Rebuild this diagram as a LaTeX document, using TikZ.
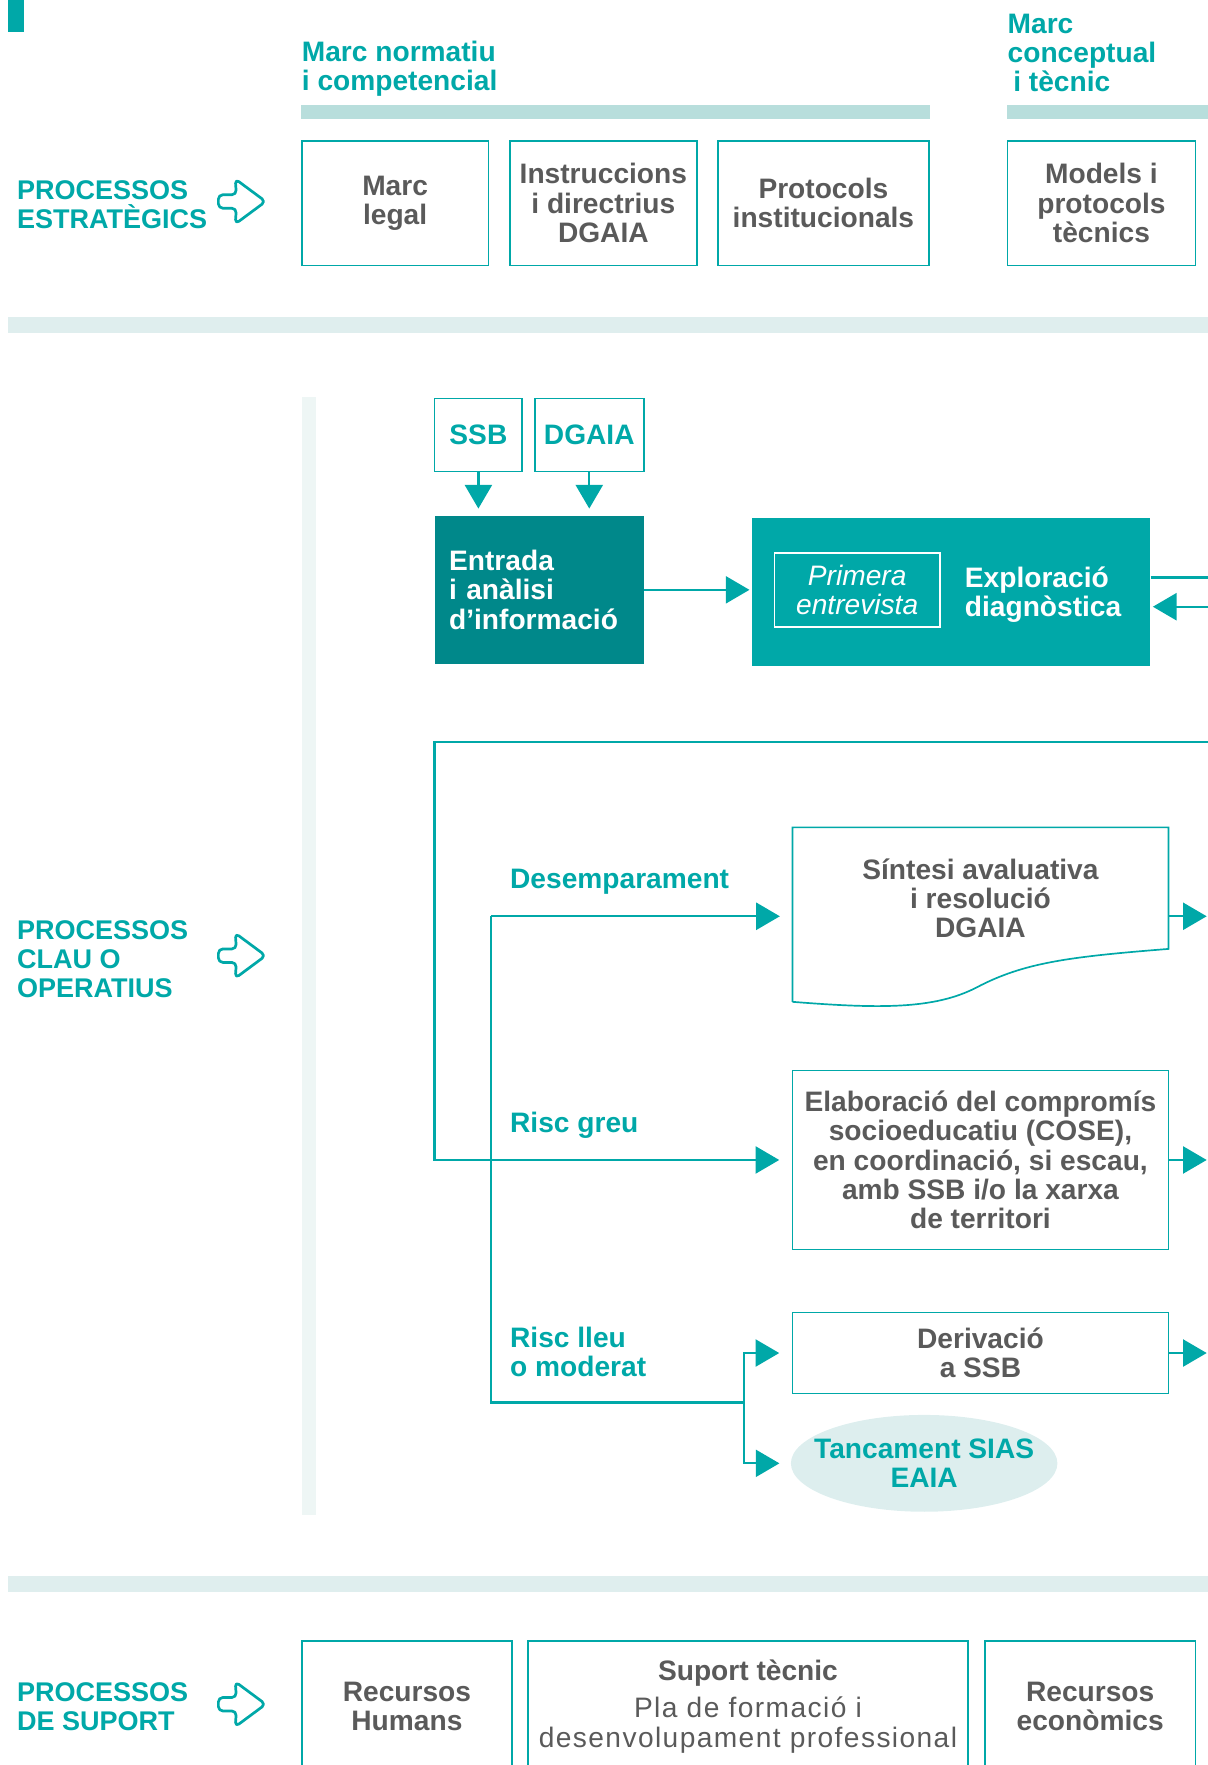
\documentclass[tikz,border=0pt]{standalone}
\usepackage{fontspec}
\setmainfont{Liberation Sans}
\usetikzlibrary{arrows.meta,shapes.geometric,calc}

\definecolor{procteal}{HTML}{00A8A8}
\definecolor{darkteal}{HTML}{00888A}
\definecolor{barteal}{HTML}{B8DEDC}
\definecolor{sepgray}{HTML}{DFEEEE}
\definecolor{lanegray}{HTML}{EEF6F5}
\definecolor{closefill}{HTML}{DDEEEE}
\definecolor{txtgray}{HTML}{5A5A5A}

\tikzset{
  bigfont/.style={font=\bfseries\fontsize{25}{26}\selectfont},
  box/.style={draw=procteal, line width=1.5pt, text=txtgray, align=center, inner sep=0pt, bigfont},
  lbl/.style={text=procteal, align=left, anchor=west, inner sep=0pt, bigfont},
  sidelbl/.style={lbl, font=\bfseries\fontsize{24}{26}\selectfont},
  lin/.style={draw=procteal, line width=2pt},
  arr/.style={lin, -{Triangle[length=21pt,width=24pt]}},
  procarrow/.pic={
    \draw[procteal, line width=2.4pt, rounded corners=4pt, line join=round]
      (-21,-6) -- (-5,-6) -- (-6,-20) -- (21,0) -- (-6,20)
      -- (-5,6) -- (-21,6) -- cycle;
  }
}

\begin{document}
\begin{tikzpicture}[x=1pt,y=-1pt]
  \useasboundingbox (0,0) rectangle (1073,1568);
  \clip (0,0) rectangle (1073,1568);

  \fill[procteal] (7,0) rectangle (21,28);
  \fill[barteal] (267,93) rectangle (826,106);
  \fill[barteal] (895,93) rectangle (1073,106);
  \fill[sepgray] (7,282) rectangle (1073,296);
  \fill[sepgray] (7,1400) rectangle (1073,1414);
  \fill[lanegray] (268,353) rectangle (281,1346);

  % estrategics
  \node[lbl] (normtitle) at (268,61) {Marc normatiu\\i competencial};
  \node[lbl] (conctitle) at (895,47) {Marc\\conceptual\\\hspace{5pt}i tècnic};
  \node[sidelbl] (estrat) at (15,182) {PROCESSOS\\ESTRATÈGICS};
  \pic at (215,179) {procarrow};
  \node[box, minimum width=166pt, minimum height=111pt] (legal) at (351,180.5) {Marc\\legal};
  \node[box, minimum width=166pt, minimum height=111pt] (instr) at (536,180.5) {Instruccions\\i directrius\\DGAIA};
  \node[box, minimum width=187pt, minimum height=111pt] (protoc) at (731.5,180.5) {Protocols\\institucionals};
  \node[box, minimum width=167pt, minimum height=111pt] (models) at (978.5,180.5) {Models i\\protocols\\tècnics};

  % clau o operatius
  \node[sidelbl] (clau) at (15,852) {PROCESSOS\\CLAU O\\OPERATIUS};
  \pic at (215,849) {procarrow};
  \node[box, text=procteal, minimum width=78pt, minimum height=65pt] (ssb) at (425,386.5) {SSB};
  \node[box, text=procteal, minimum width=97pt, minimum height=65pt] (dgaia) at (523.5,386.5) {DGAIA};
  \node[fill=darkteal, text=white, bigfont, align=left, text width=160pt, inner xsep=13pt,
        minimum height=132pt] (entrada) at (479,524) {Entrada\\i anàlisi\\d’informació};
  \node[fill=procteal, minimum width=354pt, minimum height=132pt] (explor) at (845,526) {};
  \node[draw=white, line width=1.5pt, text=white, align=center, inner sep=0pt,
        font=\itshape\fontsize{25}{26}\selectfont, minimum width=147pt, minimum height=66pt]
        (primera) at (761.5,524) {Primera\\entrevista};
  \node[lbl, text=white] (exptxt) at (857,528) {Exploració\\diagnòstica};

  \node[text=txtgray, bigfont, align=center, inner sep=0pt, minimum width=334pt] (sintesi) at (871,798)
    {Síntesi avaluativa\\i resolució\\DGAIA};
  \draw[procteal, line width=1.5pt] (704,890) -- (704,735) -- (1038,735) -- (1038,843)
    .. controls (950,850) and (910,855) .. (868,877)
    .. controls (830,897) and (780,896) .. (704,890);
  \node[box, minimum width=334pt, minimum height=159pt] (elab) at (871,1030.5)
    {Elaboració del compromís\\socioeducatiu (COSE),\\en coordinació, si escau,\\amb SSB i/o la xarxa\\de territori};
  \node[box, minimum width=334pt, minimum height=72pt] (deriv) at (871,1202) {Derivació\\a SSB};
  \node[ellipse, fill=closefill, text=procteal, bigfont, align=center, inner xsep=-14pt, inner ysep=0pt,
        minimum width=236pt, minimum height=86pt] (tanc) at (821,1300) {Tancament SIAS\\EAIA};

  \node[lbl] (desemp) at (453,783) {Desemparament};
  \node[lbl] (greu) at (453,1000) {Risc greu};
  \node[lbl] (lleu) at (453,1201) {Risc lleu\\o moderat};

  \coordinate (exout) at (1073,513);
  \coordinate (exin) at (1073,539);
  \coordinate (loopin) at (1073,659);
  \coordinate (loopc) at (386,659);
  \coordinate (brtop) at (436,814);
  \coordinate (brbot) at (436,1246);
  \coordinate (fork) at (661,1246);
  \coordinate (out1) at (1073,814);
  \coordinate (out2) at (1073,1030.5);
  \coordinate (out3) at (1073,1202);

  \draw[arr, shorten >=6pt] (ssb) -- (ssb |- entrada.north);
  \draw[arr, shorten >=6pt] (dgaia) -- (dgaia |- entrada.north);
  \draw[arr, shorten >=2pt] (entrada.east) -- (entrada.east -| explor.west);
  \draw[lin] (exout -| explor.east) -- (exout);
  \draw[arr, shorten >=2pt] (exin) -- (exin -| explor.east);
  \draw[arr, shorten >=11pt] (loopin) -- (loopc) |- (elab.west);
  \draw[arr, shorten >=11pt] (brtop) -- (brtop -| sintesi.west);
  \draw[lin] (brtop) -- (brbot) -- (fork);
  \draw[arr, shorten >=11pt] (fork) |- (deriv.west);
  \draw[arr, shorten >=10pt] (fork) |- (tanc.west);
  \draw[arr, shorten >=1pt] (out1 -| sintesi.east) -- (out1);
  \draw[arr, shorten >=1pt] (elab.east) -- (out2);
  \draw[arr, shorten >=1pt] (deriv.east) -- (out3);

  % suport
  \node[sidelbl] (suport) at (15,1516) {PROCESSOS\\DE SUPORT};
  \pic at (215,1514) {procarrow};
  \node[box, minimum width=187pt, minimum height=116pt] (rechum) at (361.5,1516) {Recursos\\Humans};
  \node[box, minimum width=391pt, minimum height=116pt] (suptec) at (664.5,1516)
    {Suport tècnic\\[7pt]\mdseries\addfontfeature{LetterSpace=5} Pla de formació i\\\mdseries\addfontfeature{LetterSpace=5} desenvolupament professional};
  \node[box, minimum width=187pt, minimum height=116pt] (receco) at (968.5,1516) {Recursos\\econòmics};
\end{tikzpicture}
\end{document}
